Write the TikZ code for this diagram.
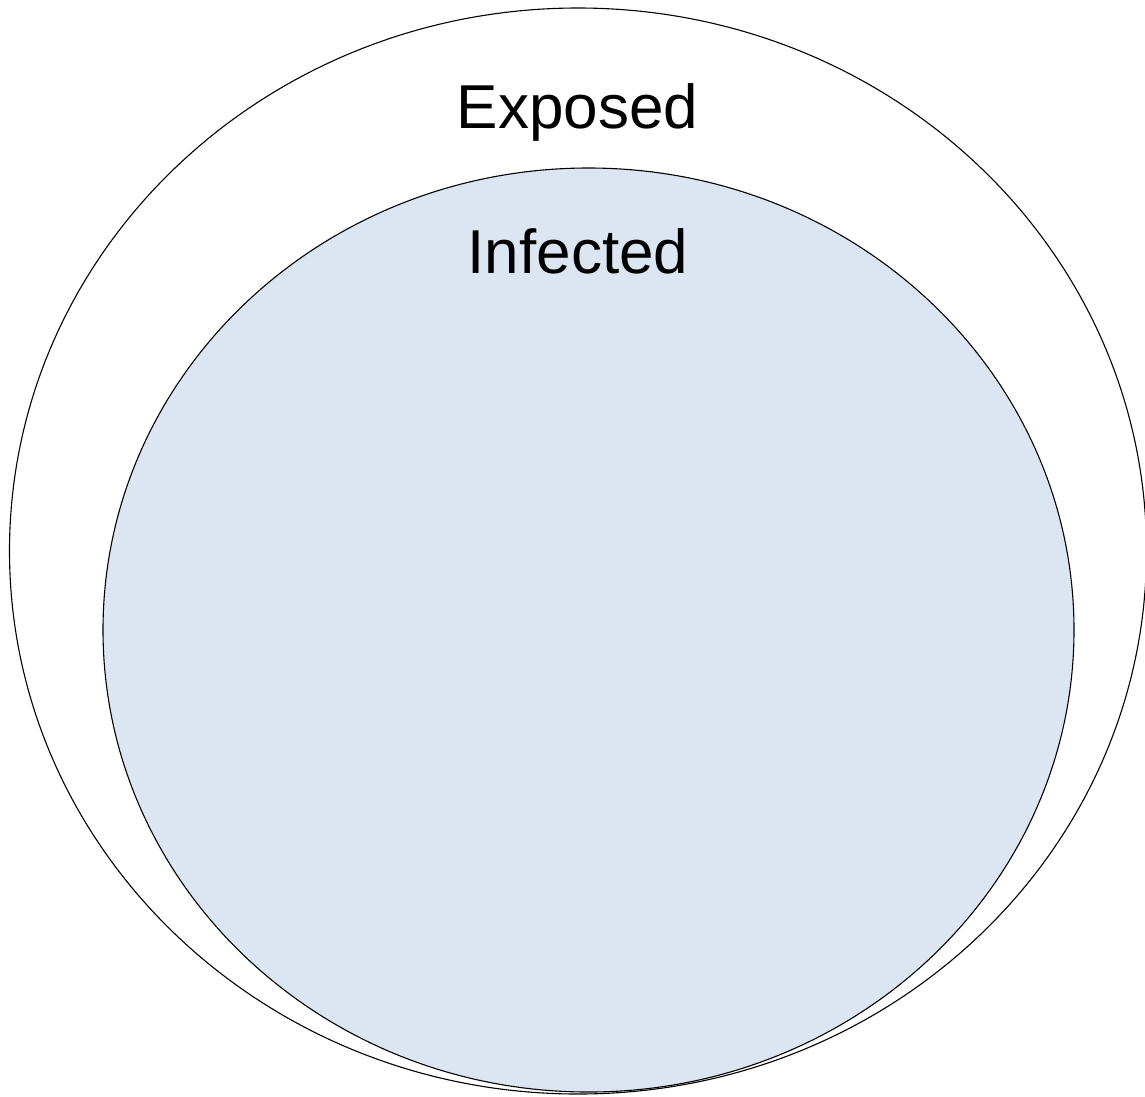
\documentclass[tikz,border=0pt]{standalone}
\usepackage{fontspec}
\setmainfont{Liberation Sans}
\usetikzlibrary{
	positioning,
	shapes.geometric
}
\definecolor{infblue}{RGB}{220,230,242}

\begin{document}
\begin{tikzpicture}[
			x=1pt, y=-1pt,
			conj/.style={draw, ellipse, inner sep=0pt, line width=1.1pt},
			rot/.style={font=\fontsize{62}{70}\selectfont, anchor=base, inner sep=0pt}
		]
		\useasboundingbox (0,0) rectangle (1145,1096);

		\node[conj, minimum width=1137pt, minimum height=1086pt] (exposed) at (578,551) {};
		\node[conj, fill=infblue, minimum width=971pt, minimum height=924pt] (infected) at (588.5,630) {};

		\node[rot] (exposedlbl) at (577.5,128) {Exposed};
		\node[rot] (infectedlbl) at (578,273) {Infected};
	\end{tikzpicture}
\end{document}
